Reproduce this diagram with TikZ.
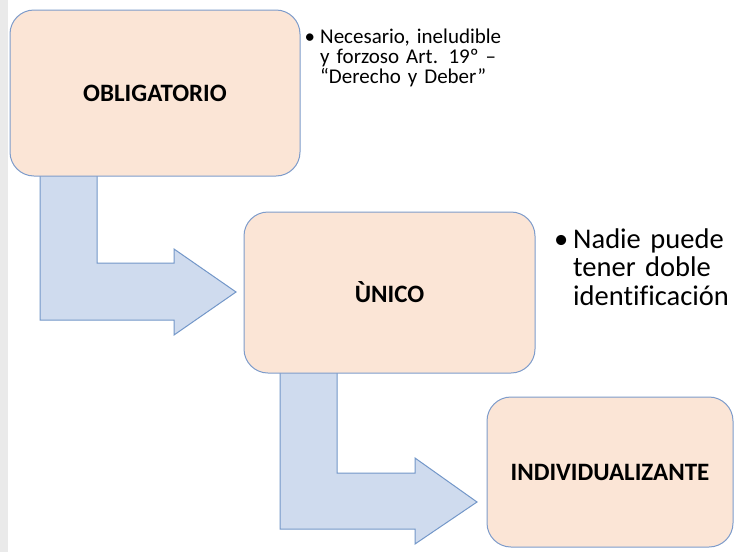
\documentclass[tikz,border=0pt]{standalone}
\usepackage{fontspec}
\setmainfont{Carlito}[Ligatures=NoCommon]
\definecolor{peach}{HTML}{FBE5D6}
\definecolor{boxline}{HTML}{7E9CCB}
\definecolor{arrowfill}{HTML}{CFDBEE}
\definecolor{arrowline}{HTML}{7397C9}
\definecolor{strip}{HTML}{EAEAEA}
\begin{document}
\begin{tikzpicture}[x=1pt,y=-1pt,
  boxnode/.style={draw=boxline, fill=peach, line width=1pt, rounded corners=24pt,
    font=\fontsize{25}{30}\selectfont\bfseries, inner sep=0pt},
  bentarrow/.style={draw=arrowline, fill=arrowfill, line width=1pt, line join=miter},
  smalltext/.style={anchor=base west, inner sep=0pt, text width=185pt, align=left,
    font=\fontsize{21}{20}\selectfont},
  bigtext/.style={anchor=base west, inner sep=0pt, text width=170pt, align=left,
    font=\fontsize{28.5}{28.5}\selectfont}]
\useasboundingbox (0,0) rectangle (737,552);
\fill[white] (0,0) rectangle (737,552);
\fill[strip] (0,0) rectangle (8,552);
% bent arrows (behind the boxes)
\draw[bentarrow] (40,170) -- (40,320) -- (174,320) -- (174,335) -- (236,292)
  -- (174,249) -- (174,263) -- (97,263) -- (97,170) -- cycle;
\draw[bentarrow] (280,366) -- (280,529) -- (415,529) -- (415,544) -- (477,502)
  -- (415,458) -- (415,473) -- (337,473) -- (337,366) -- cycle;
% boxes
\node[boxnode, minimum width=290pt, minimum height=166pt] (b1) at (155,93) {OBLIGATORIO};
\node[boxnode, minimum width=291pt, minimum height=161pt] (b2) at (389.5,292.5) {ÙNICO};
\node[boxnode, minimum width=246pt, minimum height=150pt] (b3) at (610,472) {INDIVIDUALIZANTE};
% texts
\node[smalltext] (t1) at (320,43) {\llap{•\hspace{5pt}}Necesario, ineludible\\
  \makebox[185pt][s]{y forzoso Art. 19º –}\\
  “Derecho y Deber”};
\node[bigtext] (t2) at (573,248) {\llap{•\hspace{5pt}}Nadie puede\\ tener doble\\ identificación};
\end{tikzpicture}
\end{document}
